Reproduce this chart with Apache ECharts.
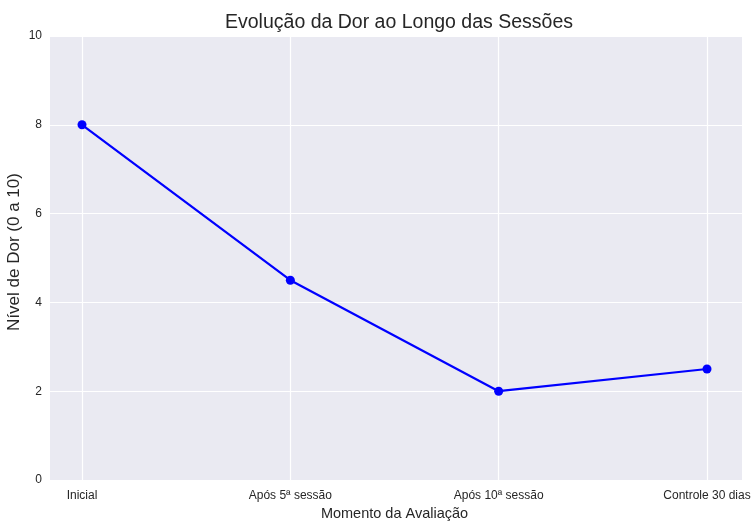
<!DOCTYPE html>
<html>
<head>
<meta charset="utf-8">
<script src="https://cdn.jsdelivr.net/npm/echarts@6/dist/echarts.min.js"></script>
<style>
  html, body { margin: 0; padding: 0; background: #fff; }
  #chart { width: 753px; height: 521px; }
</style>
</head>
<body>
<div id="chart"></div>
<script>
const categories = ["Inicial", "Após 5ª sessão", "Após 10ª sessão", "Controle 30 dias"]
const painLevels = [8, 4.5, 2, 2.5]
const yTicks = [0, 2, 4, 6, 8, 10]

const chart = echarts.init(document.getElementById("chart"))
const font = "Liberation Sans, Arial, sans-serif"
const textColor = "#262626"

const option = {
  animation: false,
  backgroundColor: "#ffffff",
  title: {
    text: "Evolução da Dor ao Longo das Sessões",
    left: 394,
    textAlign: "center",
    top: 8,
    textStyle: { fontSize: 19.5, fontWeight: "normal", color: textColor, fontFamily: font },
  },
  grid: [
    // outer plot area (background + horizontal grid)
    {
      left: 50,
      right: 11,
      top: 36,
      bottom: 41,
      show: true,
      backgroundColor: "#EAEAF2",
      borderWidth: 0,
      outerBoundsMode: "none",
      z: -1,
    },
    // inner area where the categories sit (matplotlib margins)
    {
      left: 82,
      right: 46,
      top: 36,
      bottom: 41,
      outerBoundsMode: "none",
    },
  ],
  xAxis: [
    { type: "value", gridIndex: 0, show: false, min: 0, max: 1 },
    {
      type: "category",
      gridIndex: 1,
      data: categories,
      boundaryGap: false,
      name: "Momento da Avaliação",
      nameLocation: "middle",
      nameGap: 26,
      nameMoveOverlap: false,
      nameTextStyle: { fontSize: 14.5, color: textColor, fontFamily: font },
      axisLine: { show: false },
      axisTick: { show: false },
      axisLabel: { interval: 0, color: textColor, fontSize: 12, fontFamily: font, margin: 10 },
      splitLine: { show: true, interval: 0, lineStyle: { color: "#ffffff", width: 1.2 } },
    },
  ],
  yAxis: [
    {
      type: "value",
      gridIndex: 0,
      min: yTicks[0],
      max: yTicks[yTicks.length - 1],
      interval: 2,
      name: "Nível de Dor (0 a 10)",
      nameLocation: "middle",
      nameGap: 27,
      nameMoveOverlap: false,
      nameTextStyle: { fontSize: 17, color: textColor, fontFamily: font, padding: [0, 0, 0, 12] },
      axisLine: { show: false },
      axisTick: { show: false },
      axisLabel: { color: textColor, fontSize: 12, fontFamily: font, margin: 8 },
      splitLine: { lineStyle: { color: "#ffffff", width: 1.2 } },
    },
    {
      type: "value",
      gridIndex: 1,
      show: false,
      min: yTicks[0],
      max: yTicks[yTicks.length - 1],
      splitLine: { show: false },
    },
  ],
  series: [
    {
      type: "line",
      xAxisIndex: 1,
      yAxisIndex: 1,
      data: painLevels,
      symbol: "circle",
      symbolSize: 9,
      lineStyle: { color: "#0000FF", width: 2.2 },
      itemStyle: { color: "#0000FF" },
    },
  ],
}
chart.setOption(option)
</script>
</body>
</html>
